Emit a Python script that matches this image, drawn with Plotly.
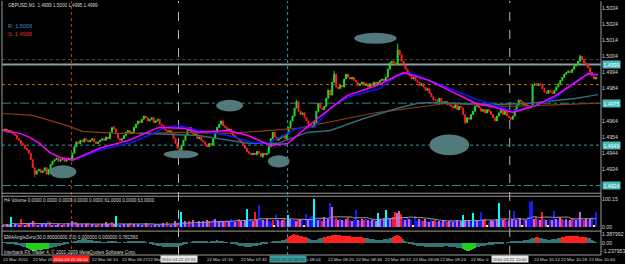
import plotly.graph_objects as go
import pandas as pd

# ---------------- DATA ----------------
# closes, pips above 1.4900, one per M1 bar
close_pips = [
    58, 59, 57, 58, 57, 56, 55, 53, 52, 50, 49, 47, 46, 44, 40, 35, 31,
    33, 34, 32, 33, 35, 31, 34, 37, 39, 40, 41, 39, 40, 41, 39, 40, 41, 40,
    44, 48, 51, 50, 52, 51, 53, 52, 51, 52, 53, 51, 50, 51, 52, 53, 52, 54, 53,
    57, 60, 59, 56, 53, 52, 53, 55, 57, 58, 56, 57, 60, 62, 64, 63, 65,
    67, 66, 64, 65, 66, 63, 64, 65, 62, 61, 59, 58, 57, 58, 56,
    53, 50, 47, 46, 49, 52, 55, 58, 60, 57, 55, 56, 53, 54, 52,
    51, 49, 48, 50, 49, 53, 57, 60, 62, 64, 61, 60, 58, 59, 57,
    55, 54, 53, 52, 51, 49, 47, 45, 44, 43, 44, 43, 45, 44, 42, 44, 43, 44,
    48, 53, 57, 54, 52, 53, 54, 55, 53, 56, 60, 64, 67, 72, 76, 70, 68, 69,
    66, 64, 62, 61, 60, 63, 70, 75, 72, 71, 73, 78, 83, 80, 88, 93,
    85, 84, 86, 85, 90, 93, 91, 90, 91, 89, 88, 86, 87, 88, 86, 87,
    85, 87, 86, 88, 87, 88, 89, 90, 89, 91, 96, 100, 101, 100, 99, 108,
    105, 101, 98, 96, 94, 92, 90, 91, 89, 88, 86, 87, 85, 83, 84, 81, 79, 77,
    77, 76, 78, 76, 75, 76, 74, 74, 73, 72, 74, 71, 73, 72, 68, 63, 66,
    65, 68, 70, 73, 74, 72, 70, 71, 69, 71, 70, 68, 66, 64, 67, 69, 71, 68, 70,
    67, 66, 65, 67, 71, 74, 77, 76, 74, 75, 73, 72, 73, 86, 87, 86, 87, 86,
    84, 82, 81, 83, 82, 81, 83, 85, 87, 89, 91, 93, 94, 95, 94, 96, 98, 99,
    101, 104, 102, 100, 99, 97, 94, 92, 90, 91,
]
spike_high = {148: 77, 167: 95, 199: 112, 291: 105, 56: 61}
spike_low = {16: 29, 233: 62, 89: 45, 131: 41}

volume = [
    8, 6, 10, 5, 36, 7, 9, 12, 8, 30,
    14, 6, 9, 11, 18, 22, 16, 10, 8, 12,
    9, 14, 11, 20, 18, 8, 10, 6, 9, 12,
    7, 10, 8, 14, 12, 20, 16, 18, 10, 9,
    12, 8, 10, 14, 6, 9, 11, 7, 10, 8,
    12, 9, 16, 10, 14, 18, 12, 40, 10, 8,
    9, 12, 8, 10, 14, 11, 9, 7, 12, 10,
    8, 10, 13, 9, 11, 8, 12, 10, 9, 7,
    10, 14, 12, 16, 10, 8, 12, 20, 14, 18,
    54, 18, 22, 14, 20, 16, 24, 12, 18, 20,
    14, 22, 18, 26, 20, 16, 24, 28, 18, 22,
    26, 20, 18, 24, 22, 30, 20, 16, 24, 28,
    22, 18, 26, 65, 24, 30, 20, 55, 26, 78,
    30, 24, 20, 28, 22, 18, 26, 6, 42, 24,
    20, 26, 32, 22, 44, 28, 24, 30, 22, 26,
    28, 24, 6, 46, 26, 36, 40, 100, 30, 24,
    28, 22, 34, 26, 30, 85, 70, 28, 32, 24,
    30, 26, 22, 28, 34, 26, 20, 24, 60, 26,
    22, 28, 24, 30, 26, 20, 24, 28, 22, 50,
    28, 24, 32, 60, 34, 30, 28, 36, 55, 50,
    58, 45, 30, 26, 34, 28, 24, 6, 38, 22,
    30, 24, 20, 28, 22, 18, 26, 20, 24, 16,
    22, 18, 24, 20, 16, 22, 26, 18, 20, 24,
    18, 22, 42, 26, 20, 24, 18, 48, 22, 26,
    20, 52, 24, 30, 6, 18, 26, 20, 24, 28,
    85, 30, 24, 28, 20, 26, 22, 30, 58, 24,
    28, 32, 5, 30, 24, 34, 88, 92, 30, 36,
    28, 24, 55, 30, 26, 6, 28, 24, 58, 30,
    26, 34, 28, 24, 30, 22, 26, 28, 32, 24,
    30, 55, 28, 24, 32, 26, 30, 34, 7, 52,
]
volume_kind = "".join([
    "pbppcbpbpr", "bprpbprbpb", "pbpbrpbppb", "prbpbpbrpb", "pbprbpbprb",
    "pbppbrpcbp", "bpbprbpbpb", "pbprbpbpbp", "bpbrbpbprb", "cbpbrbpbbp",
    "bpbprbbpbp", "bprbpbbpbr", "pbpcbbprpb", "bpbpbbrybp", "bprbcpbbpr",
    "pbybpbbcbp", "brpbpbpbrp", "bpbprbpbbp", "bprbpbpbpc", "pbpcbpbrrp",
    "prbpbpbybb", "pbrpbpbprb", "pbpbrpbpbp", "bpcpbpbcbp", "bbprybppbp",
    "cbprbpbpbp", "bpybpbbbpr", "bprbpybpbp", "bprbpbprbp", "bpbrpbpbyb",
])

ema_angle = [
    0.1, 0.05, -0.05, -0.1, -0.15, -0.2, -0.25, -0.3, -0.35,
    -0.45, -0.55, -0.7, -0.85, -0.95,
    -1.1, -1.2, -1.25, -1.2, -1.15, -1.1, -1.05, -1.0, -0.95, -0.9,
    -0.8, -0.75, -0.7, -0.6, -0.5, -0.4, -0.35, -0.3, -0.2, -0.1, 0.0, 0.1,
    0.2, 0.3, 0.4, 0.5, 0.55, 0.6, 0.55, 0.5, 0.45, 0.4, 0.3, 0.25, 0.2,
    0.15, 0.1, 0.05, 0.1, 0.2, 0.3, 0.35, 0.3, 0.2, 0.1, 0.05, 0.0, 0.05,
    0.1, 0.15, 0.2, 0.25, 0.3, 0.35, 0.3, 0.25, 0.2, 0.15, 0.1, 0.0,
    -0.1, -0.2, -0.3, -0.35, -0.4, -0.45, -0.5, -0.55, -0.6, -0.65, -0.7,
    -0.7, -0.65, -0.6, -0.55, -0.5, -0.4, -0.3, -0.2, -0.1,
    0.0, 0.1, 0.15, 0.2, 0.25, 0.3, 0.3, 0.25, 0.2, 0.15, 0.1, 0.15, 0.25,
    0.35, 0.4, 0.35, 0.3, 0.2, 0.1, 0.05, 0.0, -0.05,
    -0.1, -0.2, -0.3, -0.4, -0.45, -0.5, -0.55, -0.6, -0.6, -0.55, -0.5,
    -0.45, -0.4, -0.35, -0.3, -0.2, -0.15, -0.1, 0.0, 0.1, 0.15, 0.2,
    0.2, 0.25, 0.3, 0.4, 0.5, 0.6,
    0.85, 1.0, 1.2, 1.35, 1.3, 1.2, 1.1, 1.0, 0.9, 0.85,
    0.7, 0.6, 0.5, 0.45, 0.5, 0.6, 0.7, 0.75,
    0.85, 0.95, 1.05, 1.15, 1.25, 1.3, 1.3, 1.25, 1.2, 1.15, 1.1, 1.1, 1.05,
    1.0, 0.95, 0.95, 0.9, 0.9, 0.85, 0.85, 0.82, 0.8,
    0.7, 0.65, 0.6, 0.55, 0.5, 0.5, 0.45, 0.5, 0.55, 0.6, 0.65, 0.7, 0.75,
    0.9, 1.1, 1.2, 1.1, 0.9,
    0.6, 0.3, 0.1,
    -0.1, -0.2, -0.3, -0.35, -0.4, -0.45, -0.5, -0.5, -0.55, -0.6, -0.6,
    -0.65, -0.7, -0.7, -0.65, -0.6, -0.6, -0.55, -0.5, -0.5, -0.55, -0.6,
    -0.65, -0.7, -0.75, -0.8, -0.8,
    -0.9, -1.05, -1.2, -1.25, -1.1, -0.95, -0.85,
    -0.7, -0.6, -0.5, -0.45, -0.4, -0.35, -0.3, -0.3, -0.25, -0.2, -0.2,
    -0.15, -0.1, -0.05, 0.0, 0.05,
    0.1, 0.15, 0.2, 0.2, 0.25, 0.3, 0.3, 0.35, 0.4, 0.45,
    0.5, 0.6, 0.7, 0.8, 0.95, 0.85, 0.75, 0.7,
    0.6, 0.55, 0.5, 0.5, 0.55, 0.6, 0.65, 0.7, 0.75,
    0.85, 0.9, 1.0, 1.05, 1.1, 1.1, 1.05, 1.0, 1.0, 0.95, 0.9, 0.85, 0.85,
    0.8, 0.7,
    0.5, 0.3, 0.1,
]
ema_threshold = 0.8

# moving averages: (bar index, pips above 1.4900)
ma_magenta = [(0, 58.1), (8.5, 56.3), (13.5, 53.8), (18.5, 50.1), (23.5, 44.5),
              (28.5, 41.5), (35, 39.6), (48.5, 47), (63.5, 52), (78.5, 60),
              (91, 59.4), (98.5, 57), (113.5, 58), (123.5, 55), (134.5, 48.9),
              (143.5, 50), (158.5, 65.5), (173.5, 79.7), (188.5, 86), (202, 94),
              (215, 89), (223.5, 84), (232, 78.5), (238.5, 74.8), (248.5, 72.3),
              (257, 69.2), (268.5, 73.5), (278.5, 79.7), (288.5, 87.7),
              (295, 93.3), (300, 92.7)]
ma_blue = [(35, 39.6), (48.5, 45.8), (65, 50.7), (73.5, 55), (82, 60), (88.5, 61.2),
           (98.5, 58.1), (113.5, 55), (126, 50.7), (133.5, 50.1), (148.5, 59.4),
           (157, 60), (165, 72.3), (173.5, 78.5), (182, 81.6), (190, 84),
           (198.5, 92), (205, 93.9), (223.5, 85), (238.5, 77.5), (257, 70),
           (268.5, 73.5), (278.5, 78.5), (287, 87.1), (295, 93.3), (300, 92)]
ma_teal = [(68.5, 56.3), (98.5, 55), (123.5, 50.1), (138.5, 50.1), (153.5, 56.9),
           (165, 58.1), (182, 65.5), (198.5, 71.7), (208.5, 74.8), (215, 75.4),
           (248.5, 74.2), (265, 74.8), (278.5, 76.6), (288.5, 77.9), (300, 80.3)]
ma_brown = [(0, 68.6), (15, 67.4), (32, 61.2), (40, 57.5), (57, 56.3), (70, 56.3),
            (88.5, 56.9), (115, 56.3), (148.5, 59.4), (188.5, 69.2), (223.5, 74.8),
            (253.5, 73), (278.5, 74), (300, 75)]

# horizontal levels (price)
bid_price = 1.4999
level_top_dotted = 1.5002
level_orange = 1.49865
level_dashdot_hi = 1.4975
level_dotted_lo = 1.4949
level_dashdot_lo = 1.4924
axis_boxes = ["1.4999", "1.4975", "1.4949", "1.4924"]

price_ticks = [1.5034, 1.5024, 1.5014, 1.5004, 1.4994, 1.4984, 1.4964, 1.4954,
               1.4944, 1.4934]

# vertical time markers (bar index) and their labels
vline_bars = [34.5, 88.5, 143.5, 255.5]
vline_labels = ["2010.03.22 06:00", "2010.03.22 07:00", "2010.03.22 08:00",
                "2010.03.22 10:00"]

# time-axis labels (the parts left visible beside the marker boxes)
time_tick_bars = [-0.5, 14.5, 44.5, 59.5, 72.5, 102.5, 119.5, 153, 163.5,
                  177.5, 192, 206, 220, 235.5, 267, 281, 295]
time_tick_labels = ["22 Mar 2010", "22 Mar 05:", "22 Mar 06:10", "22 Mar 06:27",
                    "22 Mar", "22 Mar 07:16", "22 Mar 07:32", "r 08:04",
                    "22 Mar 08:20", "22 Mar 08:36", "22 Mar 08:52",
                    "22 Mar 09:08", "22 Mar 09:24", "22 Mar 0",
                    "22 Mar 10:12", "22 Mar 10:28", "22 Mar 10:44"]

# user-drawn ellipses: (bar0, bar1, pips0, pips1)
ellipses = [(23.5, 37, 28.4, 36.5), (81, 98.5, 40.8, 45.8), (107.5, 121, 69.8, 77.2),
            (133.5, 144.5, 35.2, 42.7), (177, 198.5, 111.8, 118.6),
            (215, 235, 42.7, 55.6)]

# ---------------- BUILD ----------------
def px(p):
    return 1.49 + p / 10000.0

N = len(close_pips)
xs = list(range(N))
closes = [px(c) for c in close_pips]
opens = [px(close_pips[0] + 0.5)] + closes[:-1]
highs = [max(o, c) for o, c in zip(opens, closes)]
lows = [min(o, c) for o, c in zip(opens, closes)]
for k, v in spike_high.items():
    highs[k] = max(highs[k], px(v))
for k, v in spike_low.items():
    lows[k] = min(lows[k], px(v))

FONT = "Liberation Sans"
TXT = "#d8d8d8"
H = 255.0  # plot area height in px


def py(p):  # pixel row -> paper y
    return (H - p) / H


def pxx(p):  # pixel column -> paper x
    return (p - 2) / 604.0


fig = go.Figure()

fig.add_trace(go.Candlestick(
    x=xs, open=opens, high=highs, low=lows, close=closes,
    increasing=dict(line=dict(color="#22e022", width=1), fillcolor="#22e022"),
    decreasing=dict(line=dict(color="#ff2020", width=1), fillcolor="#ff2020"),
    whiskerwidth=0, xaxis="x", yaxis="y", hoverinfo="skip", showlegend=False))

for pts, col, w in [(ma_brown, "#8a3a12", 1.2), (ma_teal, "#2e6e74", 1.5),
                    (ma_blue, "#1414ff", 1.5), (ma_magenta, "#ff00ff", 1.5)]:
    fig.add_trace(go.Scatter(x=[a for a, _ in pts], y=[px(b) for _, b in pts],
                             mode="lines", line=dict(color=col, width=w),
                             xaxis="x", yaxis="y", hoverinfo="skip", showlegend=False))

cmap = {"b": "#1a1aff", "p": "#c864c8", "r": "#ff1a1a", "c": "#00ffff",
        "y": "#ffff00", "w": "#ffffff"}
fig.add_trace(go.Bar(x=xs[:len(volume)], y=volume,
                     marker=dict(color=[cmap[k] for k in volume_kind[:len(volume)]],
                                 line=dict(width=0)),
                     width=0.75, xaxis="x", yaxis="y2", hoverinfo="skip",
                     showlegend=False))
vol_ma = pd.Series(volume).rolling(20, min_periods=1).mean()
fig.add_trace(go.Scatter(x=xs[:len(volume)], y=vol_ma, mode="lines",
                         line=dict(color="#9a9a9a", width=1), xaxis="x", yaxis="y2",
                         hoverinfo="skip", showlegend=False))

ema_cols = ["#ff2020" if v > ema_threshold else ("#20d020" if v < -ema_threshold
            else "#347474") for v in ema_angle]
fig.add_trace(go.Bar(x=list(range(len(ema_angle))), y=ema_angle,
                     marker=dict(color=ema_cols, line=dict(width=0)), width=0.75,
                     xaxis="x", yaxis="y3", hoverinfo="skip", showlegend=False))

shapes = []
# ellipses
for b0, b1, p0, p1 in ellipses:
    shapes.append(dict(type="circle", xref="x", yref="y", x0=b0, x1=b1,
                       y0=px(p0), y1=px(p1), fillcolor="#52797b",
                       line=dict(width=0), layer="above"))
# horizontal levels
for lvl, col, dash, w in [(level_top_dotted, "#4a4a4a", "dot", 1),
                          (bid_price, "#8aa0a0", "solid", 2),
                          (level_orange, "#c86400", "dot", 1),
                          (level_dashdot_hi, "#2a8c8c", "dashdot", 1),
                          (level_dotted_lo, "#2a9cb0", "dot", 1),
                          (level_dashdot_lo, "#2a8c8c", "dashdot", 1)]:
    shapes.append(dict(type="line", xref="paper", yref="y", x0=0, x1=1, y0=lvl,
                       y1=lvl, line=dict(color=col, width=w, dash=dash),
                       layer="below"))
# vertical markers
for b, col, dash in zip(vline_bars, ["#d03010", "#b8b8b8", "#3a9ac0", "#b8b8b8"],
                        ["dot", "dash", "dot", "dash"]):
    shapes.append(dict(type="line", xref="x", yref="paper", x0=b, x1=b, y0=0, y1=1,
                       line=dict(color=col, width=1, dash=dash), layer="below"))
# frames
FR = "#9a9a9a"
for yy in [py(193), py(196), py(231), 0]:
    shapes.append(dict(type="line", xref="paper", yref="paper", x0=0, x1=1,
                       y0=yy, y1=yy, line=dict(color=FR, width=1)))
for xx in [0, 1]:
    shapes.append(dict(type="line", xref="paper", yref="paper", x0=xx, x1=xx,
                       y0=0, y1=1, line=dict(color=FR, width=1)))

ann = []
small = dict(family=FONT, size=4.6, color=TXT)
tfont = dict(family=FONT, size=4.4, color=TXT)
ann.append(dict(text="GBPUSD,M1  1.4999 1.5000 1.4995 1.4999", xref="paper",
                yref="paper", x=pxx(6), y=py(5), xanchor="left", yanchor="middle",
                showarrow=False, font=small))
ann.append(dict(text="R: 1.5006", xref="paper", yref="paper", x=pxx(6), y=py(25),
                xanchor="left", yanchor="middle", showarrow=False,
                font=dict(family=FONT, size=5.6, color="#3c8cc8")))
ann.append(dict(text="S: 1.4968", xref="paper", yref="paper", x=pxx(6), y=py(33),
                xanchor="left", yanchor="middle", showarrow=False,
                font=dict(family=FONT, size=5.6, color="#e0341e")))
ann.append(dict(text="H4 Volume 0.0000 0.0000 0.0000 0.0000 0.0000 61.0000 0.0000 63.0000",
                xref="paper", yref="paper", x=pxx(2), y=py(200), xanchor="left",
                yanchor="middle", showarrow=False, font=small))
ann.append(dict(text="EMAAngleZero(30,0.80000000,3,0) 0.000000 0.000000 0.781593",
                xref="paper", yref="paper", x=pxx(2), y=py(237), xanchor="left",
                yanchor="middle", showarrow=False, font=small))
ann.append(dict(text="Interbank FX Trader 4, \u00a9 2001-2009 MetaQuotes Software Corp.",
                xref="paper", yref="paper", x=pxx(2), y=py(252), xanchor="left",
                yanchor="middle", showarrow=False, font=small))
for b, t in zip(time_tick_bars, time_tick_labels):
    ann.append(dict(text=t, xref="x", yref="paper", x=b, y=py(259.5), xanchor="left",
                    yanchor="middle", showarrow=False, font=tfont, borderpad=0))
box_style = [("#ff1a1a", "#ffffff"), ("#e8e8e8", "#303030"),
             ("#3a9c9c", "#103030"), ("#e8e8e8", "#303030")]
for b, t, (bg, fc) in zip(vline_bars, vline_labels, box_style):
    ann.append(dict(text=t, xref="x", yref="paper", x=b, y=py(259.5), xanchor="center",
                    yanchor="middle", showarrow=False, bgcolor=bg, borderpad=0.5,
                    font=dict(family=FONT, size=4.4, color=fc)))
for lvl, t in zip([bid_price, level_dashdot_hi, level_dotted_lo, level_dashdot_lo],
                  axis_boxes):
    ann.append(dict(text=t, xref="paper", yref="y", x=1, y=lvl, xanchor="left",
                    yanchor="middle", showarrow=False, bgcolor="#4bbaba", borderpad=0.5,
                    xshift=1, font=dict(family=FONT, size=5.2, color="#f0ffff")))

axfont = dict(family=FONT, size=5.2, color=TXT)
fig.update_layout(
    width=625, height=264, paper_bgcolor="#000000", plot_bgcolor="#000000",
    margin=dict(l=2, r=19, t=0, b=9), showlegend=False, bargap=0,
    xaxis=dict(domain=[0, 1], range=[-0.5, 301.5], showticklabels=False,
               showgrid=False, zeroline=False, showline=False, ticks="",
               anchor="y3", rangeslider=dict(visible=False)),
    yaxis=dict(domain=[py(192), py(2)], range=[px(19.8), px(137.09)], side="right",
               tickvals=price_ticks, ticktext=[f"{v:.4f}" for v in price_ticks],
               tickfont=axfont, showgrid=False, zeroline=False, showline=False,
               ticks="", anchor="x"),
    yaxis2=dict(domain=[py(230), py(197)], range=[-10.7, 107.1], side="right",
                tickvals=[0, 100.15], ticktext=["0.00", "100.15"], tickfont=axfont,
                showgrid=False, zeroline=False, showline=False, ticks="", anchor="x"),
    yaxis3=dict(domain=[0, py(232)], range=[-1.846, 1.692], side="right",
                tickvals=[-1.237953, 0, 1.387992],
                ticktext=["-1.237953", "0.00", "1.387992"], tickfont=axfont,
                showgrid=False, zeroline=False, showline=False, ticks="", anchor="x"),
    shapes=shapes, annotations=ann,
)

fig.write_html("out.html")
